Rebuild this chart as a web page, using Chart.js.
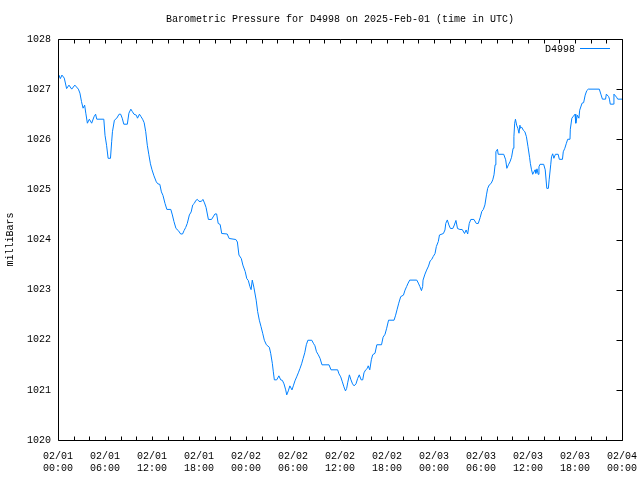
<!DOCTYPE html>
<html><head><meta charset="utf-8">
<script src="https://cdn.jsdelivr.net/npm/chart.js@4"></script>
<style>html,body{margin:0;padding:0;background:#fff;}canvas{display:block}</style>
</head><body>
<canvas id="c" width="640" height="480"></canvas>
<script>
const chartTitle = 'Barometric Pressure for D4998 on 2025-Feb-01 (time in UTC)';
const seriesName = 'D4998';
const yAxisTitle = 'milliBars';

// hours since 2025-02-01 00:00 UTC
const hours = [0.0,0.1,0.3,0.5,0.8,1.1,1.4,1.75,2.15,2.6,2.8,3.0,3.2,3.4,3.55,3.75,4.0,4.3,4.6,4.8,4.95,5.85,6.0,6.2,6.4,6.7,6.85,6.95,7.2,7.5,7.8,8.0,8.2,8.4,8.85,9.05,9.3,9.5,9.7,10.0,10.15,10.4,10.6,10.8,11.0,11.2,11.4,11.6,11.8,12.0,12.25,12.55,12.75,13.0,13.2,13.4,13.66,13.9,14.4,14.6,14.8,15.06,15.35,15.66,15.9,16.1,16.3,16.5,16.77,17.0,17.2,17.4,17.6,17.8,18.0,18.3,18.5,18.7,18.9,19.2,19.6,19.8,20.04,20.25,20.45,20.7,20.9,21.6,21.85,22.7,22.9,23.1,23.4,23.6,23.9,24.1,24.3,24.5,24.65,24.8,25.0,25.3,25.49,25.7,25.92,26.13,26.34,26.6,26.98,27.15,27.36,27.49,27.62,27.92,28.2,28.43,28.64,28.85,29.07,29.2,29.4,29.6,29.87,30.04,30.25,30.47,30.68,30.9,31.1,31.3,31.5,31.7,31.9,32.4,32.6,32.8,33.0,33.23,33.45,33.7,34.6,34.85,35.7,35.87,36.09,36.3,36.5,36.7,36.85,36.98,37.2,37.4,37.6,37.8,38.04,38.26,38.46,38.7,38.9,39.06,39.28,39.5,39.6,39.8,40.0,40.17,40.47,40.7,41.3,41.5,41.75,41.96,42.2,42.9,43.1,43.3,43.5,43.75,44.1,44.3,44.5,44.7,44.9,45.8,46.0,46.2,46.4,46.55,46.6,46.85,47.06,47.3,47.5,47.7,47.9,48.13,48.3,48.55,48.7,49.2,49.4,49.5,49.7,49.9,50.1,50.4,50.6,50.8,51.0,51.3,51.6,51.9,52.1,52.3,52.5,52.7,53.1,53.4,53.65,53.9,54.1,54.3,54.5,54.7,54.85,55.06,55.3,55.5,55.66,55.8,55.9,56.1,56.2,56.9,57.15,57.3,57.5,57.7,57.9,58.1,58.2,58.3,58.4,58.55,58.7,58.85,58.97,59.05,59.2,59.4,59.6,59.8,60.0,60.2,60.3,60.45,60.6,60.9,61.0,61.15,61.3,61.4,61.53,62.0,62.2,62.4,62.6,62.7,62.9,63.0,63.15,63.3,63.5,63.85,64.0,64.4,64.5,64.7,64.9,65.07,65.36,65.4,65.6,65.8,66.0,66.1,66.3,66.5,66.6,66.9,67.1,67.3,67.5,67.7,69.1,69.3,69.5,69.9,70.0,70.3,70.4,70.5,70.9,70.97,71.3,71.45,72.0];

const pressure = [1027.25,1027.28,1027.21,1027.28,1027.22,1027.01,1027.08,1027.0,1027.08,1027.0,1026.92,1026.75,1026.62,1026.68,1026.52,1026.32,1026.4,1026.32,1026.45,1026.5,1026.4,1026.4,1026.08,1025.88,1025.62,1025.62,1025.95,1026.15,1026.38,1026.42,1026.5,1026.5,1026.42,1026.3,1026.3,1026.52,1026.6,1026.55,1026.5,1026.48,1026.42,1026.5,1026.45,1026.4,1026.33,1026.15,1025.88,1025.69,1025.51,1025.39,1025.27,1025.15,1025.11,1025.1,1024.95,1024.88,1024.72,1024.6,1024.6,1024.49,1024.36,1024.22,1024.18,1024.11,1024.11,1024.18,1024.24,1024.32,1024.49,1024.55,1024.69,1024.72,1024.78,1024.8,1024.76,1024.76,1024.8,1024.73,1024.64,1024.4,1024.4,1024.45,1024.51,1024.51,1024.32,1024.3,1024.12,1024.11,1024.02,1024.0,1023.95,1023.69,1023.62,1023.49,1023.36,1023.22,1023.18,1023.06,1023.0,1023.19,1023.05,1022.79,1022.56,1022.39,1022.26,1022.13,1021.99,1021.9,1021.85,1021.73,1021.53,1021.36,1021.2,1021.2,1021.28,1021.2,1021.19,1021.12,1021.0,1020.9,1020.98,1021.08,1021.0,1021.08,1021.18,1021.26,1021.34,1021.43,1021.52,1021.63,1021.74,1021.9,1021.99,1021.99,1021.93,1021.88,1021.76,1021.7,1021.63,1021.5,1021.5,1021.4,1021.4,1021.32,1021.26,1021.16,1021.06,1020.98,1021.03,1021.14,1021.3,1021.2,1021.12,1021.08,1021.12,1021.23,1021.3,1021.2,1021.2,1021.34,1021.4,1021.43,1021.48,1021.4,1021.6,1021.7,1021.73,1021.9,1021.9,1022.05,1022.11,1022.23,1022.39,1022.39,1022.49,1022.61,1022.73,1022.86,1022.89,1022.99,1023.06,1023.13,1023.19,1023.19,1023.13,1023.06,1022.98,1023.06,1023.19,1023.31,1023.39,1023.47,1023.57,1023.6,1023.66,1023.72,1023.86,1023.96,1024.09,1024.12,1024.19,1024.32,1024.39,1024.29,1024.22,1024.22,1024.29,1024.38,1024.22,1024.2,1024.2,1024.12,1024.19,1024.11,1024.32,1024.4,1024.4,1024.32,1024.32,1024.44,1024.56,1024.6,1024.69,1024.89,1025.02,1025.09,1025.12,1025.19,1025.29,1025.49,1025.75,1025.8,1025.7,1025.7,1025.59,1025.42,1025.49,1025.55,1025.64,1025.82,1026.05,1026.32,1026.4,1026.28,1026.22,1026.12,1026.28,1026.22,1026.24,1026.18,1026.15,1026.05,1025.85,1025.64,1025.52,1025.39,1025.3,1025.39,1025.32,1025.41,1025.3,1025.45,1025.5,1025.5,1025.39,1025.02,1025.02,1025.19,1025.49,1025.65,1025.71,1025.62,1025.7,1025.7,1025.6,1025.6,1025.75,1025.82,1025.92,1026.0,1026.0,1026.2,1026.42,1026.46,1026.5,1026.32,1026.48,1026.42,1026.58,1026.72,1026.73,1026.88,1026.97,1027.0,1027.0,1026.9,1026.8,1026.8,1026.9,1026.85,1026.8,1026.7,1026.7,1026.9,1026.84,1026.8,1026.8];

const xTickHours = [0,6,12,18,24,30,36,42,48,54,60,66,72];
const xTickLabels = [['02/01','00:00'],['02/01','06:00'],['02/01','12:00'],['02/01','18:00'],['02/02','00:00'],['02/02','06:00'],['02/02','12:00'],['02/02','18:00'],['02/03','00:00'],['02/03','06:00'],['02/03','12:00'],['02/03','18:00'],['02/04','00:00']];
const xMinorHours = [0,2,4,6,8,10,12,14,16,18,20,22,24,26,28,30,32,34,36,38,40,42,44,46,48,50,52,54,56,58,60,62,64,66,68,70,72];
const yTicks = [1020,1021,1022,1023,1024,1025,1026,1027,1028];

const FONT = 'Liberation Mono, DejaVu Sans Mono, monospace';
const lineColor = '#0080ff';

const framePlugin = {
  id: 'frame',
  afterDraw(chart) {
    const ctx = chart.ctx, a = chart.chartArea;
    const xs = chart.scales.x, ys = chart.scales.y;
    ctx.save();
    ctx.strokeStyle = '#000';
    ctx.lineWidth = 1;
    const L = Math.round(a.left) + 0.5, R = Math.round(a.right) + 0.5;
    const T = Math.round(a.top) + 0.5, B = Math.round(a.bottom) + 0.5;
    ctx.beginPath();
    ctx.moveTo(L, T); ctx.lineTo(R, T); ctx.lineTo(R, B); ctx.lineTo(L, B); ctx.closePath();
    xMinorHours.forEach(h => {
      const px = Math.round(xs.getPixelForValue(h)) + 0.5;
      ctx.moveTo(px, B); ctx.lineTo(px, B - 4);
      ctx.moveTo(px, T); ctx.lineTo(px, T + 4);
    });
    yTicks.forEach(v => {
      const py = Math.round(ys.getPixelForValue(v)) + 0.5;
      ctx.moveTo(R, py); ctx.lineTo(R - 6, py);
    });
    ctx.stroke();
    ctx.fillStyle = '#000';
    ctx.font = '10px ' + FONT;
    ctx.textAlign = 'center';
    ctx.textBaseline = 'middle';
    ctx.fillText(chartTitle, (a.left + a.right) / 2, 19);
    ctx.textAlign = 'right';
    ctx.fillText(seriesName, 575, 49);
    ctx.strokeStyle = lineColor;
    ctx.beginPath();
    ctx.moveTo(580, 48.5); ctx.lineTo(610, 48.5);
    ctx.stroke();
    ctx.restore();
  }
};

new Chart(document.getElementById('c'), {
  type: 'line',
  data: {
    datasets: [{
      label: seriesName,
      data: hours.map((h, i) => ({x: h, y: pressure[i]})),
      borderColor: lineColor,
      borderWidth: 1,
      pointRadius: 0,
      tension: 0,
      fill: false
    }]
  },
  options: {
    responsive: false,
    animation: false,
    devicePixelRatio: 1,
    layout: { padding: { top: 39, right: 18, left: 0, bottom: 0 } },
    plugins: { legend: { display: false }, title: { display: false }, tooltip: { enabled: false } },
    scales: {
      x: {
        type: 'linear', min: 0, max: 72,
        grid: { display: false, drawTicks: false, tickLength: 0 }, border: { display: false },
        afterBuildTicks: s => { s.ticks = xTickHours.map(v => ({value: v})); },
        afterFit: s => { s.height = 40; s.paddingLeft = 0; s.paddingRight = 0; },
        ticks: {
          autoSkip: false, maxRotation: 0, minRotation: 0, padding: 10,
          color: '#000', font: { family: FONT, size: 10, lineHeight: 1.2 },
          callback: (v) => xTickLabels[xTickHours.indexOf(v)]
        }
      },
      y: {
        min: 1020, max: 1028,
        grid: { display: false, drawTicks: false, tickLength: 0 }, border: { display: false },
        afterBuildTicks: s => { s.ticks = yTicks.map(v => ({value: v})); },
        afterFit: s => { s.width = 58; s.paddingTop = 0; s.paddingBottom = 0; },
        ticks: {
          padding: 7, color: '#000', font: { family: FONT, size: 10 },
          callback: v => String(v)
        },
        title: { display: true, text: yAxisTitle, color: '#000', font: { family: FONT, size: 10 }, padding: { top: 4, bottom: 4 } }
      }
    }
  },
  plugins: [framePlugin]
});
</script>
</body></html>
